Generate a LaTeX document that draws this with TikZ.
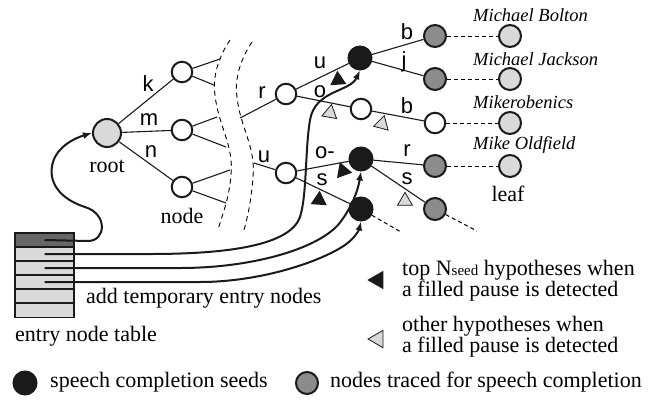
\documentclass[tikz,border=0pt]{standalone}
\usepackage{fontspec}
\setmainfont{Liberation Serif}
\newfontfamily\lsans{Liberation Sans}
\usetikzlibrary{shapes.geometric,arrows.meta}
\definecolor{lgray}{HTML}{D9D9D9}
\definecolor{mgray}{HTML}{8C8C8C}
\definecolor{dgray}{HTML}{666666}
\definecolor{nblack}{HTML}{1A1A1A}
\begin{document}
\begin{tikzpicture}[x=1pt,y=-1pt,
  nd/.style={circle,draw=nblack,line width=2pt,inner sep=0pt,minimum size=20.5pt,fill=white},
  rootnd/.style={nd,fill=lgray,minimum size=28pt},
  gnd/.style={nd,fill=mgray,minimum size=22pt},
  lnd/.style={nd,fill=lgray,minimum size=22pt},
  bnd/.style={nd,fill=nblack,minimum size=23pt},
  edge/.style={line width=1.1pt,draw=nblack},
  sepline/.style={line width=0.9pt,dash pattern=on 5pt off 4pt},
  dsh/.style={line width=1pt,dash pattern=on 4pt off 3pt},
  curve/.style={line width=2pt,draw=nblack,-{Latex[length=9pt,width=7pt]}},
  lbl/.style={font=\lsans\fontsize{22}{22}\selectfont,inner sep=0pt},
  txt/.style={font=\fontsize{22}{20}\selectfont,inner sep=0pt,align=left},
  itl/.style={font=\itshape\fontsize{18.5}{18}\selectfont,inner sep=0pt,anchor=west},
  btri/.style={isosceles triangle,isosceles triangle apex angle=60,inner sep=0pt,minimum height=14pt,minimum width=14pt,fill=nblack},
  gtri/.style={isosceles triangle,isosceles triangle apex angle=60,inner sep=0pt,minimum height=13pt,minimum width=13pt,fill=lgray,draw=nblack,line width=0.8pt},
  row/.style={draw=nblack,line width=1.2pt,minimum width=59pt,minimum height=14pt,inner sep=0pt,fill=lgray}
]
\useasboundingbox (0,0) rectangle (658,399);

% separators
\draw[sepline] (230,40) .. controls (220,55) and (212,75) .. (215,95) .. controls (218,125) and (234,145) .. (231,175) .. controls (229,200) and (222,215) .. (218,230);
\draw[sepline] (252,42) .. controls (242,57) and (234,77) .. (237,97) .. controls (240,127) and (256,147) .. (253,177) .. controls (251,202) and (248,215) .. (244,230);

% left tree
\node[rootnd] (root) at (107,133) {};
\node[nd] (k) at (182,72) {};
\node[nd] (m) at (182,130) {};
\node[nd] (n) at (182,187) {};
\draw[edge] (root) -- (k);
\draw[edge] (root) -- (m);
\draw[edge] (root) -- (n);
\node[lbl] at (148,84) {k};
\node[lbl] at (149,120) {m};
\node[lbl] at (151,152) {n};
\node[txt] at (107,166) {root};
\node[txt] at (182,216) {node};
\coordinate (k1) at (220,59);
\coordinate (k2) at (214,85);
\coordinate (m1) at (217,117);
\coordinate (m2) at (226,147);
\coordinate (n1) at (230,170);
\coordinate (n2) at (226,203);
\draw[edge] (k) -- (k1);
\draw[edge] (k) -- (k2);
\draw[edge] (m) -- (m1);
\draw[edge] (m) -- (m2);
\draw[edge] (n) -- (n1);
\draw[edge] (n) -- (n2);

% right tree
\coordinate (r0) at (240,118);
\coordinate (u0) at (254,163);
\node[nd] (r) at (286,94) {};
\node[nd] (u) at (286,173) {};
\draw[edge] (r0) -- (r);
\draw[edge] (u0) -- (u);
\node[lbl] at (262,93) {r};
\node[lbl] at (264,157) {u};

\node[bnd] (b1) at (360,58) {};
\node[nd] (o1) at (361,109) {};
\node[bnd] (b2) at (361,159) {};
\node[bnd] (b3) at (361,209) {};
\draw[edge] (r) -- (b1);
\draw[edge] (r) -- (o1);
\draw[edge] (u) -- (b2);
\draw[edge] (u) -- (b3);
\node[lbl] at (320,63) {u};
\node[lbl] at (320,92) {o};
\node[lbl] at (325,153) {o-};
\node[lbl] at (322,180) {s};

\node[gnd] (g1) at (435,36) {};
\node[gnd] (g2) at (435,79) {};
\node[nd]  (w3) at (435,123) {};
\node[gnd] (g4) at (435,166) {};
\node[gnd] (g5) at (435,209) {};
\draw[edge] (b1) -- (g1);
\draw[edge] (b1) -- (g2);
\draw[edge] (o1) -- (w3);
\draw[edge] (b2) -- (g4);
\draw[edge] (b2) -- (g5);
\node[lbl] at (407,32) {b};
\node[lbl] at (404,62) {j};
\node[lbl] at (407,106) {b};
\node[lbl] at (407,151) {r};
\node[lbl] at (407,179) {s};

\node[lnd] (l1) at (510,36) {};
\node[lnd] (l2) at (510,79) {};
\node[lnd] (l3) at (510,123) {};
\node[lnd] (l4) at (510,166) {};
\draw[dsh] (g1) -- (l1);
\draw[dsh] (g2) -- (l2);
\draw[dsh] (w3) -- (l3);
\draw[dsh] (g4) -- (l4);
\coordinate (e3) at (401,232);
\coordinate (e5) at (477,231);
\draw[dsh] (b3) -- (e3);
\draw[dsh] (g5) -- (e5);

\node[itl] at (473,15) {Michael Bolton};
\node[itl] at (473,59) {Michael Jackson};
\node[itl] at (473,102) {Mikerobenics};
\node[itl] at (473,145) {Mike Oldfield};
\node[txt] at (508,194) {leaf};

% hypothesis marks (y axis is flipped: rotate=-a turns the apex to a degrees)
\node[btri,rotate=-26] (h1) at (338,80) {};
\node[btri,rotate=-10] (h2) at (343,171) {};
\node[btri,rotate=-154] (h3) at (319,200) {};
\node[gtri,rotate=-160] (h4) at (330,113) {};
\node[gtri,rotate=-165] (h5) at (382,124) {};
\node[gtri,rotate=-150] (h6) at (405,201) {};

% entry node table
\node[row,fill=dgray] (t1) at (44.5,240) {};
\node[row] (t2) at (44.5,254) {};
\node[row] (t3) at (44.5,268) {};
\node[row] (t4) at (44.5,282) {};
\node[row] (t5) at (44.5,296) {};
\node[row] (t6) at (44.5,310.5) {};

\draw[curve] (t1.center) -- (88,241) .. controls (106,241) and (108,214) .. (85,207) .. controls (60,199) and (47,182) .. (53,162) .. controls (58,146) and (75,138) .. (root.west);
\draw[curve] (t2.center) -- (150,254) .. controls (230,254) and (290,245) .. (300,217) .. controls (307,195) and (305,150) .. (310,120) .. controls (315,90) and (350,92) .. (b1.south);
\draw[curve] (t3.center) -- (180,268) .. controls (250,268) and (315,250) .. (338,225) .. controls (352,208) and (358,190) .. (b2.south);
\draw[curve] (t4.center) -- (200,282) .. controls (260,282) and (320,262) .. (345,245) .. controls (355,238) and (359,230) .. (b3.south);

\node[txt,anchor=west] at (86,298) {add temporary entry nodes};
\node[txt,anchor=west] at (15,336) {entry node table};

% legend
\node[btri,rotate=180,minimum height=16pt,minimum width=15pt] (lt1) at (378,280) {};
\node[txt,anchor=west] at (402,281) {top N{\fontsize{15}{15}\selectfont seed} hypotheses when\\a filled pause is detected};
\node[gtri,rotate=180,minimum height=15pt,minimum width=15pt] (lt2) at (378,339) {};
\node[txt,anchor=west] at (402,337) {other hypotheses when\\a filled pause is detected};

\node[bnd] (lg1) at (25,383) {};
\node[txt,anchor=west] at (50,382) {speech completion seeds};
\node[gnd] (lg2) at (307,383) {};
\node[txt,anchor=west] at (330,382) {nodes traced for speech completion};
\end{tikzpicture}
\end{document}
